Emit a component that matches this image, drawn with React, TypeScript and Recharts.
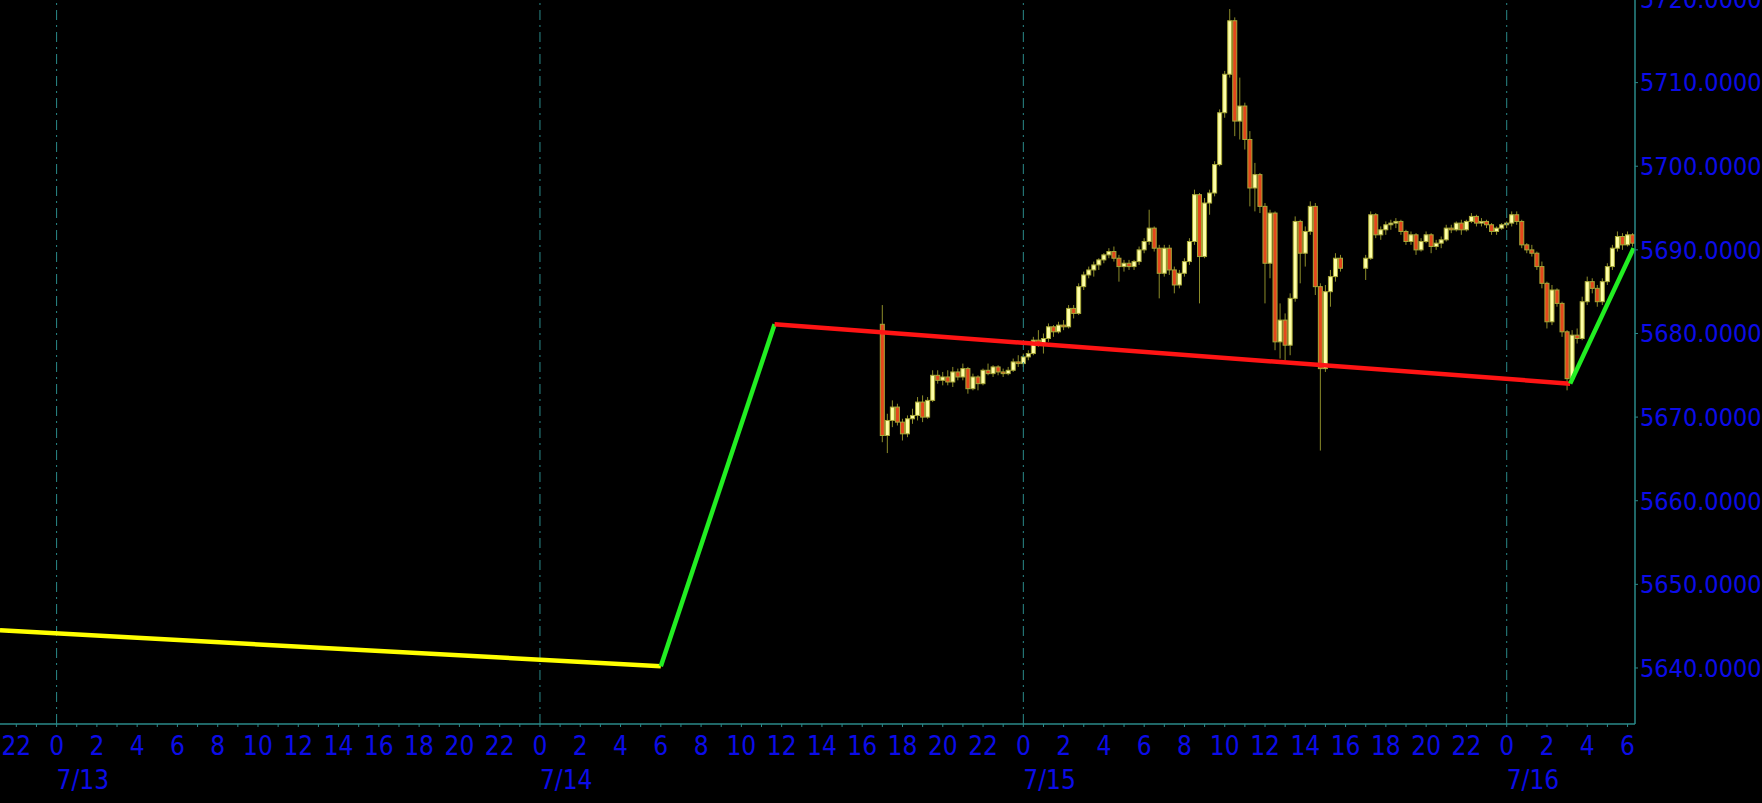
import React from "react";
import { Bar, ComposedChart, Line, ReferenceLine, XAxis, YAxis } from "recharts";

// time axis is hours since 7/13 00:00
const dayLabels = ["7/13", "7/14", "7/15", "7/16"];
const dayStarts = [0, 24, 48, 72];
const priceTicks = [5640, 5650, 5660, 5670, 5680, 5690, 5700, 5710, 5720];

// 15 minute bars, first session from 7/14 17:00
const seg1Start = 41;
const seg1Open = [
  5681.1, 5667.8, 5669.6, 5671.2, 5669.4, 5668.0, 5669.8, 5670.2, 5671.8, 5670.0,
  5672.0, 5675.0, 5674.4, 5674.8, 5674.2, 5675.4, 5674.8, 5675.8, 5673.4, 5674.8,
  5674.0, 5675.6, 5675.2, 5676.0, 5675.4, 5675.2, 5675.6, 5676.6, 5676.4, 5677.2,
  5677.6, 5679.2, 5678.8, 5679.4, 5680.8, 5680.2, 5681.0, 5680.8, 5683.0, 5682.4,
  5685.6, 5687.0, 5687.6, 5688.2, 5688.8, 5689.4, 5689.8, 5689.0, 5688.0, 5688.4,
  5688.0, 5688.6, 5690.0, 5691.0, 5692.6, 5690.2, 5687.2, 5690.2, 5687.6, 5685.8,
  5687.2, 5688.6, 5691.0, 5696.6, 5689.2, 5695.6, 5696.8, 5700.2, 5706.4, 5711.0,
  5717.4, 5705.4, 5707.2, 5703.2, 5697.4, 5699.0, 5695.2, 5688.4, 5694.4, 5679.0,
  5681.6, 5678.6, 5684.2, 5693.4, 5689.6, 5692.2, 5695.2, 5685.6, 5675.8, 5685.0,
  5686.8, 5689.0,
];
const seg1High = [
  5683.4, 5670.4, 5672.0, 5671.6, 5669.8, 5670.2, 5671.0, 5672.4, 5672.6, 5672.4,
  5675.6, 5675.6, 5675.4, 5675.6, 5676.0, 5675.8, 5676.4, 5676.0, 5675.2, 5675.0,
  5675.8, 5676.4, 5676.2, 5676.2, 5675.8, 5676.0, 5677.0, 5677.4, 5677.6, 5678.0,
  5679.6, 5680.4, 5680.0, 5681.2, 5681.0, 5681.4, 5681.6, 5683.4, 5683.4, 5686.0,
  5687.4, 5688.0, 5688.6, 5689.0, 5689.6, 5690.2, 5690.4, 5689.4, 5688.8, 5688.8,
  5688.8, 5690.4, 5691.4, 5694.8, 5692.8, 5690.6, 5690.6, 5690.6, 5688.0, 5687.6,
  5689.0, 5691.4, 5697.2, 5696.8, 5696.2, 5697.2, 5700.6, 5706.8, 5711.4, 5718.8,
  5717.8, 5710.6, 5707.6, 5704.2, 5700.4, 5699.2, 5695.6, 5694.8, 5694.6, 5683.6,
  5682.4, 5684.8, 5694.0, 5693.6, 5692.8, 5695.8, 5695.6, 5686.0, 5685.8, 5687.6,
  5689.6, 5689.4,
];
const seg1Low = [
  5667.0, 5665.7, 5668.8, 5669.0, 5667.2, 5667.6, 5669.2, 5669.6, 5669.4, 5669.8,
  5671.8, 5674.0, 5673.8, 5673.8, 5673.6, 5674.4, 5674.4, 5672.8, 5673.2, 5673.2,
  5673.8, 5675.0, 5674.8, 5675.0, 5674.8, 5675.0, 5675.4, 5676.0, 5676.0, 5676.8,
  5677.4, 5678.4, 5677.6, 5679.0, 5679.6, 5680.0, 5680.4, 5680.6, 5681.8, 5682.2,
  5685.2, 5686.6, 5686.8, 5687.6, 5688.4, 5689.0, 5688.6, 5686.2, 5687.4, 5687.6,
  5687.6, 5688.2, 5689.6, 5690.6, 5689.8, 5684.2, 5686.8, 5687.0, 5684.8, 5685.4,
  5686.8, 5688.2, 5690.6, 5683.6, 5689.0, 5694.2, 5696.4, 5700.0, 5705.8, 5710.6,
  5703.6, 5703.2, 5702.0, 5695.2, 5694.6, 5694.4, 5683.6, 5686.6, 5678.0, 5677.0,
  5676.8, 5677.4, 5683.8, 5686.0, 5688.0, 5691.8, 5684.6, 5666.0, 5675.4, 5683.2,
  5686.2, 5687.4,
];
const seg1Close = [
  5667.8, 5669.6, 5671.2, 5669.4, 5668.0, 5669.8, 5670.2, 5671.8, 5670.0, 5672.0,
  5675.0, 5674.4, 5674.8, 5674.2, 5675.4, 5674.8, 5675.8, 5673.4, 5674.8, 5674.0,
  5675.6, 5675.2, 5676.0, 5675.4, 5675.2, 5675.6, 5676.6, 5676.4, 5677.2, 5677.6,
  5679.2, 5678.8, 5679.4, 5680.8, 5680.2, 5681.0, 5680.8, 5683.0, 5682.4, 5685.6,
  5687.0, 5687.6, 5688.2, 5688.8, 5689.4, 5689.8, 5689.0, 5688.0, 5688.4, 5688.0,
  5688.6, 5690.0, 5691.0, 5692.6, 5690.2, 5687.2, 5690.2, 5687.6, 5685.8, 5687.2,
  5688.6, 5691.0, 5696.6, 5689.2, 5695.6, 5696.8, 5700.2, 5706.4, 5711.0, 5717.4,
  5705.4, 5707.2, 5703.2, 5697.4, 5699.0, 5695.2, 5688.4, 5694.4, 5679.0, 5681.6,
  5678.6, 5684.2, 5693.4, 5689.6, 5692.2, 5695.2, 5685.6, 5675.8, 5685.0, 5686.8,
  5689.0, 5687.8,
];

// second session from 7/15 17:00
const seg2Start = 65;
const seg2Open = [
  5687.8, 5689.0, 5694.2, 5691.8, 5692.4, 5693.0, 5693.2, 5693.4, 5692.2, 5691.0,
  5691.8, 5690.0, 5691.0, 5691.8, 5690.4, 5690.8, 5691.2, 5692.6, 5692.4, 5693.2,
  5692.4, 5693.4, 5694.0, 5693.2, 5693.4, 5693.0, 5692.2, 5692.6, 5693.0, 5693.2,
  5694.2, 5693.4, 5690.6, 5690.0, 5689.6, 5688.0, 5686.0, 5681.4, 5685.2, 5683.6,
  5680.2, 5674.6, 5679.8, 5679.4, 5683.8, 5686.2, 5685.4, 5683.8, 5686.2, 5688.0,
  5690.2, 5691.6, 5690.6, 5691.8,
];
const seg2High = [
  5689.4, 5694.6, 5694.4, 5692.8, 5693.4, 5693.6, 5693.8, 5693.6, 5692.4, 5692.2,
  5692.0, 5691.4, 5692.2, 5692.0, 5691.2, 5691.6, 5693.0, 5693.0, 5693.4, 5693.6,
  5693.6, 5694.4, 5694.2, 5693.8, 5693.6, 5693.2, 5692.8, 5693.2, 5693.4, 5694.6,
  5694.6, 5693.6, 5690.8, 5690.6, 5689.8, 5688.6, 5686.2, 5685.8, 5685.4, 5683.8,
  5680.4, 5680.4, 5680.6, 5684.4, 5686.8, 5686.6, 5685.8, 5686.6, 5688.4, 5690.6,
  5692.2, 5692.0, 5692.2, 5692.0,
];
const seg2Low = [
  5686.4, 5688.8, 5691.4, 5691.2, 5691.8, 5692.4, 5692.6, 5691.8, 5690.6, 5690.6,
  5689.4, 5689.8, 5690.8, 5689.6, 5690.0, 5690.2, 5691.0, 5692.0, 5692.2, 5691.8,
  5692.2, 5693.2, 5692.8, 5692.8, 5692.6, 5691.8, 5691.8, 5692.4, 5692.6, 5692.8,
  5693.0, 5690.2, 5689.6, 5689.2, 5687.6, 5685.4, 5680.6, 5681.0, 5683.2, 5679.6,
  5673.2, 5674.2, 5678.8, 5679.2, 5683.4, 5684.8, 5683.2, 5683.4, 5685.8, 5687.6,
  5689.8, 5690.0, 5690.4, 5690.4,
];
const seg2Close = [
  5689.0, 5694.2, 5691.8, 5692.4, 5693.0, 5693.2, 5693.4, 5692.2, 5691.0, 5691.8,
  5690.0, 5691.0, 5691.8, 5690.4, 5690.8, 5691.2, 5692.6, 5692.4, 5693.2, 5692.4,
  5693.4, 5694.0, 5693.2, 5693.4, 5693.0, 5692.2, 5692.6, 5693.0, 5693.2, 5694.2,
  5693.4, 5690.6, 5690.0, 5689.6, 5688.0, 5686.0, 5681.4, 5685.2, 5683.6, 5680.2,
  5674.6, 5679.8, 5679.4, 5683.8, 5686.2, 5685.4, 5683.8, 5686.2, 5688.0, 5690.2,
  5691.6, 5690.6, 5691.8, 5690.8,
];

// zigzag pivots
const zigTimes = [-2.81, 30.0, 35.65, 75.15, 78.3];
const zigValues = [5644.5, 5640.2, 5681.1, 5674.0, 5690.2];
const zigColors = ["#ffff00", "#22ee22", "#ff1414", "#22ee22"];

const BAR_HOURS = 0.25;
const TEAL = "#2a8a8a";
const BLUE = "#0c0ce8";
const FONT = "'DejaVu Sans Condensed', 'DejaVu Sans', sans-serif";

type Candle = { t: number; open: number; high: number; low: number; close: number };

function session(start: number, open: number[], high: number[], low: number[], close: number[]): Candle[] {
  return open.map((o, i) => ({
    t: start + i * BAR_HOURS,
    open: o,
    high: high[i],
    low: low[i],
    close: close[i],
  }));
}

const candles: Candle[] = [
  ...session(seg1Start, seg1Open, seg1High, seg1Low, seg1Close),
  ...session(seg2Start, seg2Open, seg2High, seg2Low, seg2Close),
];

const zigSegments = zigColors.map((color, i) => ({
  color,
  data: [
    { t: zigTimes[i], zz: zigValues[i] },
    { t: zigTimes[i + 1], zz: zigValues[i + 1] },
  ],
}));

const hourTicks: number[] = [];
for (let h = -2; h <= 78; h++) hourTicks.push(h);

function CandleShape(props: any) {
  const { x, y, width, height, payload } = props;
  if (payload == null || height == null || isNaN(y)) return null;
  const top = Math.min(y, y + height);
  const h = Math.abs(height);
  const span = payload.high - payload.low || 1;
  const py = (v: number) => top + ((payload.high - v) / span) * h;
  const cx = x + width / 2;
  const up = payload.close >= payload.open;
  const b0 = py(Math.max(payload.open, payload.close));
  const b1 = py(Math.min(payload.open, payload.close));
  return (
    <g>
      <line x1={cx} x2={cx} y1={top} y2={top + h} stroke="#8c8c2a" strokeWidth={1} />
      <rect
        x={cx - 2}
        y={b0}
        width={4}
        height={Math.max(1, b1 - b0)}
        fill={up ? "#ffffa6" : "#e4461c"}
        stroke="#a8a838"
        strokeWidth={1}
      />
    </g>
  );
}

function HourTick(props: any) {
  const { x, y, payload } = props;
  const t = payload.value as number;
  const hour = ((t % 24) + 24) % 24;
  if (hour % 2 !== 0) return <g />;
  const dayIdx = dayStarts.indexOf(t);
  return (
    <g>
      <text x={x} y={y + 26} textAnchor="middle" fill={BLUE} fontSize={26} fontFamily={FONT}>
        {hour}
      </text>
      {dayIdx >= 0 && (
        <text x={x} y={y + 60} textAnchor="start" fill={BLUE} fontSize={26} fontFamily={FONT}>
          {dayLabels[dayIdx]}
        </text>
      )}
    </g>
  );
}

export default function App() {
  return (
    <div style={{ position: "absolute", left: 0, top: -1, width: 1762, height: 804, background: "#000", overflow: "hidden" }}>
      <ComposedChart
        width={1762}
        height={804}
        data={candles}
        margin={{ top: 0, right: 0, bottom: 0, left: 0 }}
      >
        <XAxis
          dataKey="t"
          type="number"
          domain={[-2.81, 78.37]}
          allowDataOverflow
          ticks={hourTicks}
          interval={0}
          height={79}
          tickSize={3}
          tickMargin={2}
          stroke={TEAL}
          axisLine={{ stroke: TEAL, strokeWidth: 1.5 }}
          tickLine={{ stroke: TEAL }}
          tick={<HourTick />}
        />
        <YAxis
          yAxisId={0}
          orientation="right"
          type="number"
          domain={[5633.3, 5720]}
          allowDataOverflow
          ticks={priceTicks}
          interval={0}
          width={127}
          tickSize={3}
          tickMargin={2}
          axisLine={{ stroke: TEAL, strokeWidth: 1.5 }}
          tickLine={{ stroke: TEAL }}
          tick={{ fill: BLUE, fontSize: 25, fontFamily: FONT }}
          tickFormatter={(v: number) => v.toFixed(4)}
        />
        {dayStarts.map((d) => (
          <ReferenceLine key={d} x={d} stroke={TEAL} strokeDasharray="10 5 2 5" strokeWidth={1} />
        ))}
        <Bar
          dataKey={(d: Candle) => [d.low, d.high]}
          barSize={4}
          shape={<CandleShape />}
          isAnimationActive={false}
        />
        {zigSegments.map((s, i) => (
          <Line
            key={i}
            data={s.data}
            dataKey="zz"
            type="linear"
            stroke={s.color}
            strokeWidth={4.5}
            dot={false}
            activeDot={false}
            isAnimationActive={false}
          />
        ))}
      </ComposedChart>
    </div>
  );
}
